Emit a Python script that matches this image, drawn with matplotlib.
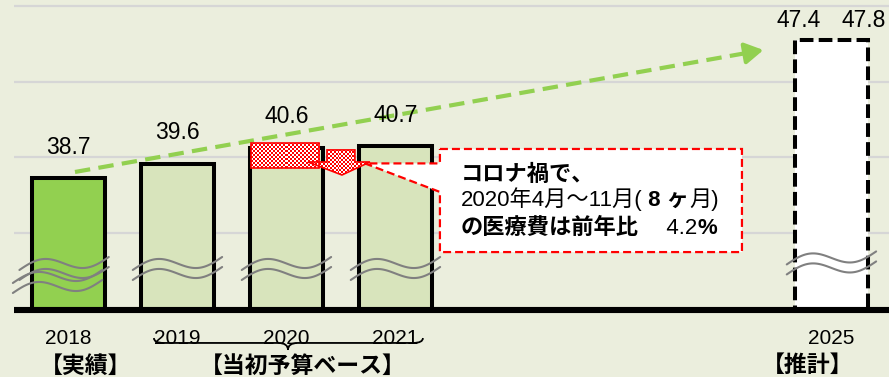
import numpy as np
import matplotlib
matplotlib.use("Agg")
import matplotlib.pyplot as plt
from matplotlib.patches import Rectangle, Polygon, PathPatch, FancyArrowPatch
from matplotlib.path import Path

# ---- data -------------------------------------------------------------
years = [2018, 2019, 2020, 2021]
values = [38.7, 39.6, 40.6, 40.7]
year_labels = ["2018", "2019", "2020", "2021"]
forecast_year = 2025
forecast_range = [47.4, 47.8]
forecast_label = "2025"
group_labels = ["【実績】", "【当初予算ベース】", "【推計】"]
callout_lines = [
    [("コロナ禍で、", "bold")],
    [("2020年4月～11月(", "normal"), (" 8 ヶ", "bold"), ("月)", "normal")],
    [("の医療費は前年比", "bold"), ("\u3000 4.2", "normal"), ("%", "bold")],
]

# ---- style ------------------------------------------------------------
BG = "#EBEEDD"
GRID_C = "#D6D6D6"
GREEN = "#92D050"
LIGHT = "#D8E4BC"
RED = "#FF0000"
WAVE_C = "#808080"
FAM = ["Liberation Sans", "Noto Sans CJK JP"]

BASE = 30.38                      # value at the (broken) baseline
GRID = [35.23, 40.02, 44.75, 49.54]
XLIM = (2017.372, 2025.528)
YLIM = (26.153, 49.923)
BAR_W = 0.667

fig = plt.figure(figsize=(8.89, 3.77), dpi=100)
fig.patch.set_facecolor(BG)
ax = fig.add_axes([0, 0, 1, 1])
ax.set_facecolor(BG)
ax.axis("off")
ax.set_xlim(*XLIM)
ax.set_ylim(*YLIM)

# gridlines and baseline
ax.hlines(GRID, 2017.5, XLIM[1], color=GRID_C, lw=1.6, zorder=1)

# bars
colors = [GREEN] + [LIGHT] * (len(years) - 1)
ax.bar(years, [v - BASE for v in values], bottom=BASE, width=BAR_W,
       color=colors, edgecolor="black", lw=2.9, zorder=2)
ax.bar([forecast_year], [forecast_range[0] - BASE], bottom=BASE, width=BAR_W,
       color="white", edgecolor="black", lw=2.9, ls=(0, (3.4, 1.3)), zorder=2)

ax.hlines(BASE, 2017.5, XLIM[1], color="black", lw=4.4, zorder=4)

# axis-break wave marks
px_y = (YLIM[1] - YLIM[0]) / 377.0


def wave(xc, yc, half=0.41):
    t = np.linspace(-1, 1, 80)
    x = xc + half * t
    y = yc + (6.5 * t - 7.5 * np.sin(np.pi * t)) * px_y
    return x, y


def break_mark(xc, yc):
    for dy in (0, -10 * px_y):
        x, y = wave(xc, yc + dy)
        ax.plot(x, y, color=WAVE_C, lw=1.5, zorder=3, solid_capstyle="round")


break_mark(years[0] - 0.04, 33.31)
break_mark(years[0] - 0.10, 33.31 - 13 * px_y)
for yr in years[1:]:
    break_mark(yr, 33.31)
break_mark(forecast_year, 33.66)

# trend arrow
start = np.array([2018.06, 39.08])
tip = np.array([2024.376, 46.77])
back = tip - 0.026 * (tip - start)
ax.plot([start[0], back[0]], [start[1], back[1]], color=GREEN, lw=3,
        dashes=(3.7, 2.0), zorder=5, solid_capstyle="butt")
ax.add_patch(FancyArrowPatch(back, tip, arrowstyle="-|>,head_length=0.55,head_width=0.32",
                             mutation_scale=20, color=GREEN, lw=3,
                             shrinkA=0, shrinkB=0, zorder=5))

# value labels
for yr, v in zip(years, values):
    ax.annotate(f"{v:.1f}", (yr, v), xytext=(0, 22.3), textcoords="offset points",
                ha="center", va="center", fontsize=16.5, family=FAM, zorder=8)
ax.annotate(f"{forecast_range[0]:.1f}", (forecast_year - BAR_W / 2, forecast_range[0]),
            xytext=(2.2, 14.4), textcoords="offset points",
            ha="center", va="center", fontsize=16.5, family=FAM, zorder=8)
ax.annotate(f"{forecast_range[1]:.1f}", (forecast_year + BAR_W / 2, forecast_range[0]),
            xytext=(-3.2, 14.4), textcoords="offset points",
            ha="center", va="center", fontsize=16.5, family=FAM, zorder=8)

# checkered decline marks on 2020
checker = (np.indices((13, 34)).sum(axis=0) % 2).astype(float)
cmap = matplotlib.colors.ListedColormap(["white", RED])

drop_rect = Rectangle((2019.674, 39.33), 0.624, 1.58, facecolor="none",
                      edgecolor=RED, lw=1.2, zorder=7)
arrow_pts = [(2020.372, 40.47), (2020.628, 40.47), (2020.628, 39.71),
             (2020.766, 39.71), (2020.509, 38.89), (2020.197, 39.71),
             (2020.372, 39.71)]
drop_arrow = Polygon(arrow_pts, closed=True, facecolor="none",
                     edgecolor=RED, lw=1.2, zorder=7)

for patch, ext in ((drop_rect, (2019.674, 2020.298, 39.33, 40.91)),
                   (drop_arrow, (2020.197, 2020.766, 38.89, 40.47))):
    ax.add_patch(patch)
    im = ax.imshow(checker, cmap=cmap, extent=ext, aspect="auto",
                   interpolation="nearest", zorder=6, origin="lower")
    im.set_clip_path(patch)

# callout box
box = Polygon([(2021.408, 40.53), (2024.179, 40.53), (2024.179, 34.03),
               (2021.408, 34.03), (2021.408, 37.82), (2020.72, 39.62),
               (2021.408, 39.62)], closed=True, facecolor="white",
              edgecolor=RED, lw=1.6, ls=(0, (3.6, 1.8)), zorder=6)
ax.add_patch(box)
ax.set_xlim(*XLIM)
ax.set_ylim(*YLIM)

renderer = fig.canvas.get_renderer()
line_y = [38.51, 36.93, 35.17]
for y, runs in zip(line_y, callout_lines):
    x = 2021.596
    for s, w in runs:
        t = ax.text(x, y, s, fontsize=16, fontweight=w, family=FAM,
                    ha="left", va="baseline", zorder=8)
        bb = t.get_window_extent(renderer)
        x = ax.transData.inverted().transform((bb.x1, bb.y0))[0]

# year labels
for yr, lab in zip(years + [forecast_year], year_labels + [forecast_label]):
    ax.text(yr, 28.61, lab, ha="center", va="center", fontsize=15,
            family=FAM, zorder=8)

# brace over 2019-2021
x0, x1, xc = 2018.784, 2021.252, 2020.014
yb, yt, ye = 28.30, 27.86, 28.61
r = 0.09
verts = [(x0, ye), (x0, yb), (x0 + r, yb),
         (xc - r, yb), (xc, yb), (xc, yt),
         (xc, yb), (xc + r, yb),
         (x1 - r, yb), (x1, yb), (x1, ye)]
codes = [Path.MOVETO, Path.CURVE3, Path.CURVE3,
         Path.LINETO, Path.CURVE3, Path.CURVE3,
         Path.CURVE3, Path.CURVE3,
         Path.LINETO, Path.CURVE3, Path.CURVE3]
ax.add_patch(PathPatch(Path(verts, codes), facecolor="none", edgecolor="black",
                       lw=1.3, zorder=8))

# group labels
for xg, lab in zip([2018.16, 2020.151, 2024.785], group_labels):
    ax.text(xg, 26.85, lab, ha="center", va="center", fontsize=16.5,
            fontweight="bold", family=FAM, zorder=8)

fig.savefig("out.png", dpi=100, facecolor=BG)
